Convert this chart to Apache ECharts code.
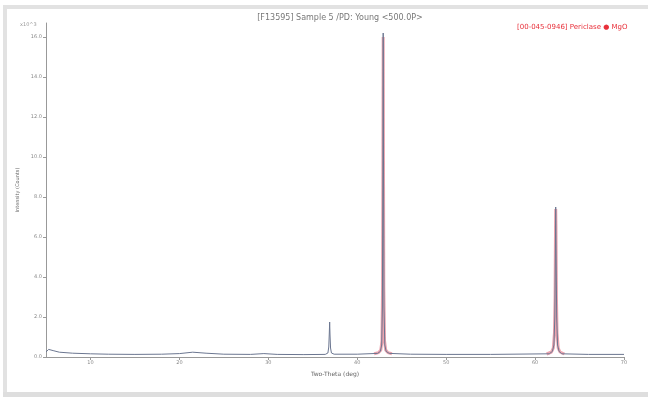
<!DOCTYPE html>
<html><head><meta charset="utf-8">
<script src="https://cdn.jsdelivr.net/npm/echarts@6/dist/echarts.min.js"></script>
<style>html,body{margin:0;padding:0;background:#fff}#c{width:648px;height:397px}</style>
</head><body><div id="c"></div>
<script>
const titleText = "[F13595] Sample 5 /PD: Young <500.0P>";
const legendText = "[00-045-0946] Periclase \u25CF MgO";
const xTicks = [10, 20, 30, 40, 50, 60, 70];
const yTicks = [0, 2, 4, 6, 8, 10, 12, 14, 16];
// measured pattern [2theta, intensity x10^3]
const measured = [
 [5.0,0.25],[5.3,0.38],[5.8,0.32],[6.5,0.24],[8,0.19],[10,0.16],[12,0.14],[15,0.13],[18,0.14],
 [20,0.17],[21.5,0.24],[23,0.19],[25,0.14],[28,0.13],[29.5,0.17],[31,0.13],[34,0.12],[36.4,0.13],
 [36.7,0.2],[36.8,0.5],[36.86,1.2],[36.9,1.75],[36.94,1.1],[37.0,0.45],[37.1,0.2],[37.4,0.14],
 [40,0.14],[42.3,0.18],[42.6,0.28],[42.75,0.6],[42.83,2.5],[42.88,9],[42.92,16.2],[42.96,9],
 [43.01,2.5],[43.1,0.6],[43.25,0.28],[43.6,0.18],[46,0.14],[50,0.13],[55,0.13],[61.6,0.16],
 [61.95,0.28],[62.12,0.6],[62.22,2],[62.28,5],[62.32,7.5],[62.37,5],[62.43,2],[62.53,0.6],
 [62.7,0.28],[63,0.16],[66,0.13],[70,0.13]
];
// calculated / reference profile around MgO peaks
const calculated = [
 [41.9,0.16],[42.4,0.22],[42.65,0.35],[42.78,0.8],[42.85,3.5],[42.89,10],[42.92,16.0],[42.95,10],
 [42.99,3.5],[43.07,0.8],[43.2,0.35],[43.45,0.22],[43.9,0.16],null,
 [61.3,0.15],[61.85,0.25],[62.05,0.45],[62.18,1.2],[62.25,3],[62.3,6.5],[62.32,7.4],[62.35,6.5],
 [62.4,3],[62.47,1.2],[62.6,0.45],[62.8,0.25],[63.3,0.15]
];

const chart = echarts.init(document.getElementById('c'));
chart.setOption({
  animation: false,
  title: {text: titleText, left: 335, textAlign: 'center', top: 9,
    textStyle: {fontSize: 8, fontWeight: 'normal', color: '#777', fontFamily: 'DejaVu Sans'}},
  graphic: [
    {type: 'rect', shape: {x: 3, y: 5, width: 645, height: 4}, style: {fill: '#e2e2e2'}},
    {type: 'rect', shape: {x: 3, y: 5, width: 4, height: 392}, style: {fill: '#e2e2e2'}},
    {type: 'rect', shape: {x: 3, y: 392, width: 645, height: 5}, style: {fill: '#dedede'}},
    {type: 'text', left: 517, top: 24, style: {text: legendText, fill: '#e8303a', fontSize: 7, fontFamily: 'DejaVu Sans'}},
    {type: 'text', left: 20, top: 22, style: {text: 'x10^3', fill: '#999', fontSize: 5, fontFamily: 'DejaVu Sans'}}
  ],
  grid: {left: 46, right: 24, top: 23, bottom: 40},
  xAxis: {
    type: 'value', min: 5, max: 70,
    name: 'Two-Theta (deg)', nameLocation: 'middle', nameGap: 14,
    nameTextStyle: {fontSize: 6, color: '#666', fontFamily: 'DejaVu Sans'},
    axisLine: {lineStyle: {color: '#999', width: 1}},
    axisTick: {customValues: xTicks, length: 3, lineStyle: {color: '#999'}},
    axisLabel: {customValues: xTicks, fontSize: 5, color: '#888', margin: 3, fontFamily: 'DejaVu Sans'},
    splitLine: {show: false}
  },
  yAxis: {
    type: 'value', min: 0, max: 16.7,
    name: 'Intensity (Counts)', nameLocation: 'middle', nameGap: 18,
    nameTextStyle: {fontSize: 5, color: '#666', fontFamily: 'DejaVu Sans'},
    axisLine: {show: true, lineStyle: {color: '#999', width: 1}},
    axisTick: {show: true, customValues: yTicks, length: 3, lineStyle: {color: '#999'}},
    axisLabel: {customValues: yTicks, fontSize: 5, color: '#888', margin: 4, fontFamily: 'DejaVu Sans',
      formatter: v => v.toFixed(1)},
    splitLine: {show: false}
  },
  series: [
    {type: 'line', data: calculated, showSymbol: false, connectNulls: false,
      lineStyle: {color: 'rgba(220,90,110,0.55)', width: 3}},
    {type: 'line', data: measured, showSymbol: false,
      lineStyle: {color: '#6b7690', width: 1}}
  ]
});
</script></body></html>
